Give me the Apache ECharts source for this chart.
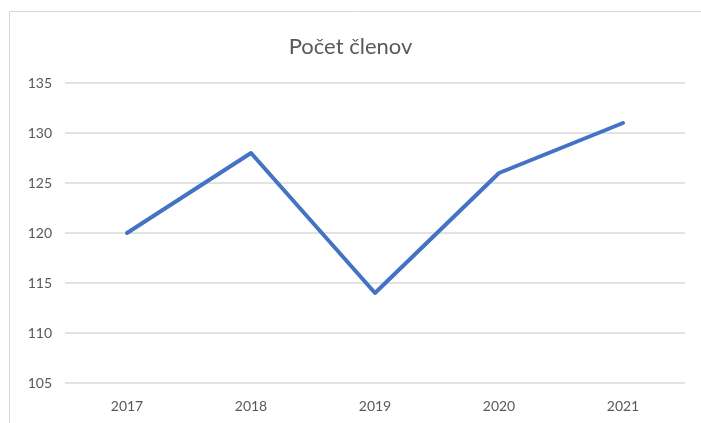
<!DOCTYPE html>
<html><head><meta charset="utf-8">
<script src="https://cdn.jsdelivr.net/npm/echarts@6/dist/echarts.min.js"></script>
<style>html,body{margin:0;padding:0;background:#fff}#c{width:701px;height:423px}</style>
</head><body><div id="c"></div>
<script>
const titleText = 'Počet členov';
const categories = ['2017', '2018', '2019', '2020', '2021'];
const values = [120, 128, 114, 126, 131];
const yMin = 105, yMax = 135, yStep = 5;

const chart = echarts.init(document.getElementById('c'));
const font = 'Lato, "Open Sans", sans-serif';
chart.setOption({
  animation: false,
  backgroundColor: '#fff',
  graphic: [{
    type: 'rect', shape: { x: 9.5, y: 11.5, width: 720, height: 440 },
    style: { fill: 'none', stroke: '#d9d9d9', lineWidth: 1 }, silent: true
  }],
  title: {
    text: titleText, left: 'center', top: 31,
    textStyle: { fontFamily: font, fontSize: 22, fontWeight: 'normal', color: '#595959' }
  },
  grid: { left: 65, right: 16, top: 83, bottom: 40 },
  xAxis: {
    type: 'category', data: categories, boundaryGap: true,
    axisLine: { show: false }, axisTick: { show: false },
    axisLabel: { fontFamily: font, fontSize: 14, color: '#595959', margin: 16 }
  },
  yAxis: {
    type: 'value', min: yMin, max: yMax, interval: yStep,
    axisLine: { show: false }, axisTick: { show: false },
    axisLabel: { fontFamily: font, fontSize: 14, color: '#595959', margin: 13 },
    splitLine: { lineStyle: { color: '#d9d9d9', width: 1.5 } }
  },
  series: [{
    type: 'line', data: values, symbol: 'none',
    lineStyle: { color: '#4472c4', width: 4, cap: 'round', join: 'round' }
  }]
});
</script></body></html>
